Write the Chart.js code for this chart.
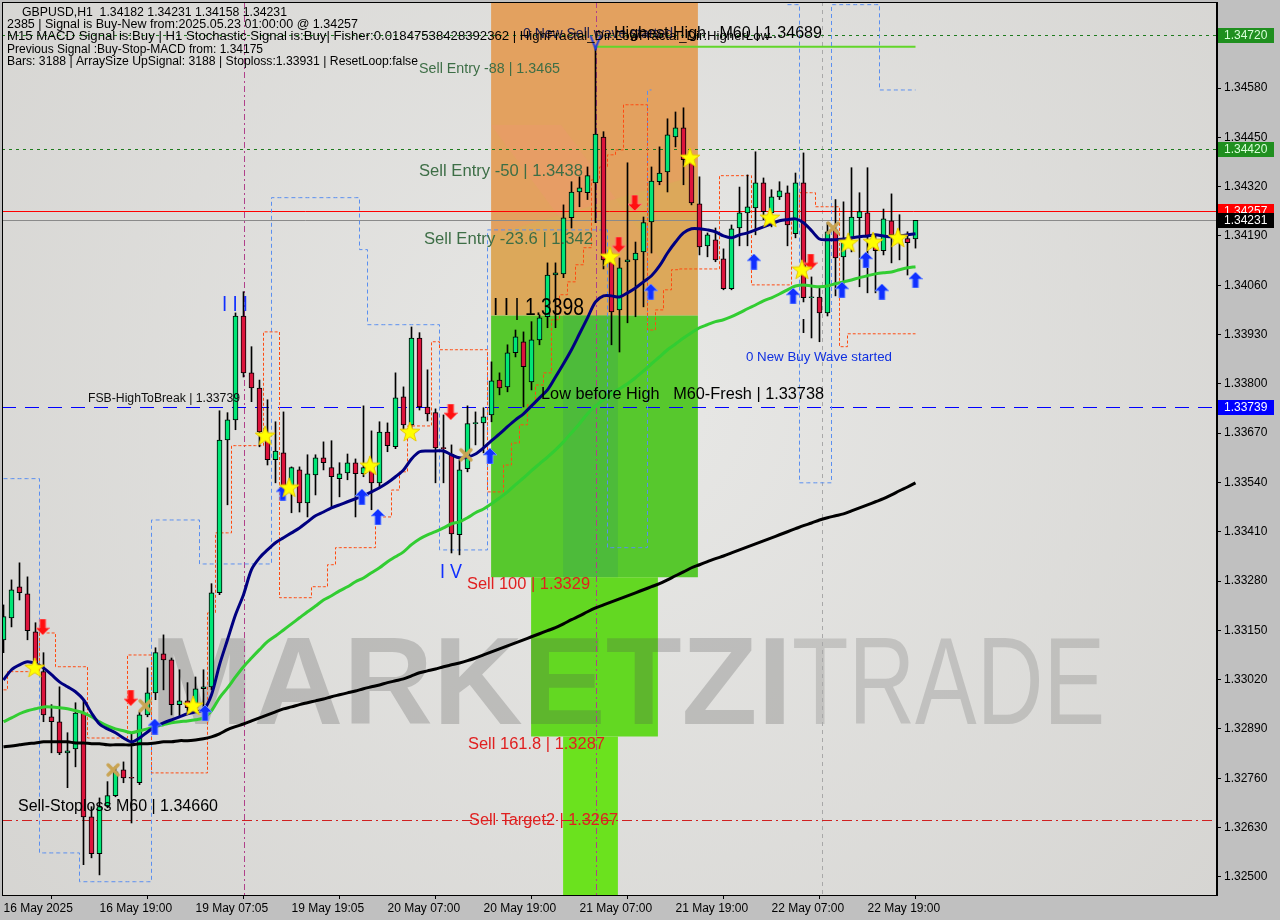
<!DOCTYPE html>
<html>
<head>
<meta charset="utf-8">
<script src="https://cdn.jsdelivr.net/npm/chart.js@4.4.1/dist/chart.umd.min.js"></script>
<style>
  html, body { margin: 0; padding: 0; background: #c0c0c0; }
  #wrap { width: 1280px; height: 920px; }
</style>
</head>
<body>
<div id="wrap"><canvas id="chart" width="1280" height="920"></canvas></div>
<script>
// GBPUSD H1 candles (bar 0 = 16 May 07:00)
const opens = [1.33125,1.33183,1.33265,1.33246,1.33146,1.33041,1.32922,1.32909,1.32827,1.32837,
  1.32932,1.32658,1.32561,1.32687,1.32714,1.32782,1.32761,1.32748,1.32927,1.32985,
  1.33088,1.33072,1.32954,1.32964,1.32946,1.32996,1.33001,1.33249,1.33652,1.33705,
  1.33979,1.33829,1.33789,1.33652,1.33600,1.33618,1.33528,1.33573,1.33486,1.33560,
  1.33605,1.33579,1.33550,1.33565,1.33592,1.33563,1.33581,1.33539,1.33673,1.33634,
  1.33766,1.33692,1.33921,1.33739,1.33724,1.33631,1.33615,1.33402,1.33576,1.33695,
  1.33697,1.33718,1.33810,1.33792,1.33882,1.33911,1.33805,1.33916,1.33977,1.34087,
  1.34090,1.34238,1.34306,1.34304,1.34330,1.34451,1.34122,1.33995,1.34122,1.34127,
  1.34148,1.34227,1.34333,1.34359,1.34451,1.34475,1.34385,1.34275,1.34164,1.34180,
  1.34130,1.34051,1.34211,1.34251,1.34264,1.34330,1.34251,1.34293,1.34304,1.34196,
  1.34330,1.34027,1.34029,1.33987,1.34206,1.34135,1.34185,1.34238,1.34251,1.34161,
  1.34151,1.34230,1.34193,1.34183,1.34182];
const highs = [1.33217,1.33283,1.33328,1.33291,1.33170,1.33091,1.32954,1.33001,1.32880,1.32959,
  1.32967,1.32685,1.32708,1.32751,1.32790,1.32803,1.32880,1.32935,1.33051,1.33104,
  1.33138,1.33077,1.33046,1.33012,1.33027,1.33046,1.33273,1.33729,1.33724,1.33987,
  1.34043,1.33898,1.33810,1.33758,1.33700,1.33726,1.33581,1.33581,1.33613,1.33613,
  1.33647,1.33650,1.33592,1.33615,1.33602,1.33742,1.33676,1.33700,1.33697,1.33829,
  1.33792,1.33950,1.33935,1.33837,1.33734,1.33718,1.33639,1.33600,1.33742,1.33726,
  1.33737,1.33858,1.33829,1.33903,1.33942,1.33937,1.33964,1.33982,1.34119,1.34119,
  1.34272,1.34333,1.34346,1.34372,1.34689,1.34465,1.34145,1.34132,1.34383,1.34174,
  1.34240,1.34372,1.34425,1.34499,1.34517,1.34528,1.34391,1.34346,1.34198,1.34211,
  1.34156,1.34219,1.34319,1.34351,1.34412,1.34343,1.34312,1.34333,1.34322,1.34356,
  1.34409,1.34082,1.34056,1.34225,1.34286,1.34280,1.34370,1.34304,1.34370,1.34190,
  1.34261,1.34301,1.34246,1.34201,1.34231];
const lows = [1.33091,1.33159,1.33230,1.33125,1.33051,1.32909,1.32827,1.32822,1.32735,1.32790,
  1.32532,1.32550,1.32505,1.32682,1.32711,1.32748,1.32642,1.32743,1.32922,1.32967,
  1.32993,1.32927,1.32922,1.32935,1.32935,1.32940,1.32993,1.33244,1.33481,1.33679,
  1.33818,1.33753,1.33634,1.33586,1.33539,1.33513,1.33460,1.33462,1.33449,1.33507,
  1.33573,1.33476,1.33502,1.33547,1.33449,1.33555,1.33468,1.33526,1.33621,1.33629,
  1.33679,1.33679,1.33731,1.33702,1.33539,1.33539,1.33354,1.33349,1.33568,1.33639,
  1.33618,1.33700,1.33771,1.33779,1.33871,1.33739,1.33784,1.33903,1.33948,1.33948,
  1.34080,1.34211,1.34267,1.34286,1.34225,1.34103,1.33903,1.33884,1.33961,1.33977,
  1.34003,1.34145,1.34325,1.34306,1.34425,1.34325,1.34272,1.34140,1.34135,1.34122,
  1.34048,1.34048,1.34164,1.34164,1.34193,1.34233,1.34214,1.34286,1.34164,1.34185,
  1.34016,1.33921,1.33911,1.33979,1.34032,1.34061,1.34148,1.34056,1.34040,1.34040,
  1.34140,1.34119,1.34127,1.34087,1.34158];
const closes = [1.33186,1.33257,1.33249,1.33149,1.33064,1.32927,1.32909,1.32827,1.32832,1.32932,
  1.32658,1.32561,1.32685,1.32714,1.32777,1.32761,1.32760,1.32927,1.32985,1.33091,
  1.33072,1.32954,1.32964,1.32946,1.32996,1.33001,1.33249,1.33652,1.33705,1.33979,
  1.33829,1.33789,1.33673,1.33600,1.33623,1.33528,1.33579,1.33486,1.33563,1.33605,
  1.33592,1.33555,1.33563,1.33592,1.33563,1.33579,1.33539,1.33673,1.33637,1.33763,
  1.33692,1.33921,1.33739,1.33721,1.33631,1.33629,1.33404,1.33573,1.33695,1.33697,
  1.33713,1.33808,1.33789,1.33882,1.33924,1.33845,1.33916,1.33974,1.34087,1.34093,
  1.34238,1.34306,1.34317,1.34349,1.34459,1.34127,1.33990,1.34106,1.34127,1.34145,
  1.34225,1.34335,1.34356,1.34457,1.34475,1.34391,1.34277,1.34161,1.34193,1.34127,
  1.34051,1.34209,1.34251,1.34267,1.34330,1.34254,1.34293,1.34309,1.34219,1.34330,
  1.34027,1.34029,1.33987,1.34201,1.34132,1.34172,1.34240,1.34254,1.34190,1.34151,
  1.34235,1.34193,1.34185,1.34172,1.34231];

// moving averages
const maFast = [1.33019,1.33046,1.33059,1.33067,1.33062,1.33051,1.33033,1.33014,1.33001,1.32988,
  1.32967,1.32932,1.32903,1.32890,1.32880,1.32866,1.32856,1.32866,1.32882,1.32896,
  1.32906,1.32914,1.32922,1.32930,1.32935,1.32940,1.32980,1.33059,1.33125,1.33191,
  1.33244,1.33310,1.33341,1.33362,1.33381,1.33394,1.33407,1.33420,1.33436,1.33452,
  1.33462,1.33473,1.33481,1.33489,1.33497,1.33505,1.33515,1.33526,1.33539,1.33555,
  1.33573,1.33602,1.33621,1.33623,1.33623,1.33623,1.33613,1.33605,1.33607,1.33615,
  1.33631,1.33650,1.33668,1.33687,1.33705,1.33721,1.33742,1.33763,1.33784,1.33818,
  1.33853,1.33890,1.33932,1.33974,1.34016,1.34032,1.34032,1.34029,1.34040,1.34053,
  1.34069,1.34085,1.34111,1.34145,1.34174,1.34198,1.34209,1.34209,1.34206,1.34201,
  1.34190,1.34185,1.34193,1.34198,1.34206,1.34214,1.34222,1.34230,1.34233,1.34235,
  1.34225,1.34204,1.34182,1.34180,1.34180,1.34182,1.34185,1.34188,1.34190,1.34193,
  1.34190,1.34188,1.34190,1.34193,1.34196];
const maMid = [1.32909,1.32919,1.32930,1.32938,1.32943,1.32948,1.32948,1.32946,1.32943,1.32938,
  1.32932,1.32922,1.32909,1.32898,1.32890,1.32885,1.32880,1.32885,1.32890,1.32896,
  1.32901,1.32906,1.32909,1.32911,1.32914,1.32919,1.32938,1.32972,1.32998,1.33027,
  1.33054,1.33077,1.33099,1.33120,1.33135,1.33151,1.33167,1.33183,1.33199,1.33214,
  1.33230,1.33241,1.33254,1.33265,1.33278,1.33288,1.33302,1.33315,1.33331,1.33344,
  1.33357,1.33376,1.33391,1.33402,1.33410,1.33420,1.33431,1.33436,1.33447,1.33460,
  1.33470,1.33484,1.33499,1.33515,1.33534,1.33552,1.33571,1.33589,1.33607,1.33626,
  1.33647,1.33671,1.33695,1.33721,1.33742,1.33758,1.33774,1.33787,1.33800,1.33816,
  1.33834,1.33853,1.33871,1.33890,1.33905,1.33921,1.33935,1.33948,1.33956,1.33964,
  1.33969,1.33977,1.33987,1.33998,1.34008,1.34019,1.34027,1.34037,1.34048,1.34058,
  1.34061,1.34058,1.34056,1.34058,1.34064,1.34069,1.34074,1.34080,1.34085,1.34090,
  1.34093,1.34095,1.34101,1.34106,1.34109];
const maSlow = [1.32843,1.32845,1.32848,1.32851,1.32853,1.32856,1.32856,1.32856,1.32856,1.32853,
  1.32853,1.32851,1.32851,1.32848,1.32848,1.32848,1.32848,1.32851,1.32851,1.32853,
  1.32856,1.32856,1.32859,1.32859,1.32861,1.32864,1.32869,1.32877,1.32888,1.32896,
  1.32903,1.32911,1.32919,1.32927,1.32935,1.32943,1.32948,1.32954,1.32959,1.32964,
  1.32969,1.32975,1.32980,1.32985,1.32990,1.32996,1.33001,1.33006,1.33012,1.33017,
  1.33022,1.33030,1.33038,1.33043,1.33048,1.33054,1.33059,1.33064,1.33070,1.33077,
  1.33085,1.33093,1.33101,1.33109,1.33117,1.33125,1.33133,1.33141,1.33149,1.33157,
  1.33167,1.33178,1.33188,1.33199,1.33209,1.33217,1.33225,1.33233,1.33241,1.33249,
  1.33257,1.33265,1.33273,1.33283,1.33294,1.33304,1.33315,1.33323,1.33331,1.33339,
  1.33346,1.33354,1.33362,1.33370,1.33378,1.33386,1.33394,1.33402,1.33410,1.33418,
  1.33426,1.33433,1.33441,1.33447,1.33452,1.33457,1.33465,1.33473,1.33481,1.33489,
  1.33497,1.33507,1.33518,1.33528,1.33539];

// trailing step lines (orange) and channel (blue), null = not drawn
const trailLine = [1.32993,1.33041,1.33041,1.33041,1.33041,1.33143,1.33143,1.33054,1.33054,1.33054,
  1.33054,1.32866,1.32866,1.32866,1.32866,1.32866,1.33085,1.33085,1.33085,1.32774,
  1.32774,1.32774,1.32774,1.32774,1.32774,1.32774,1.33196,1.33407,1.33407,1.33637,
  1.33637,1.33637,1.33637,1.33937,1.33937,1.33236,1.33236,1.33236,1.33236,1.33265,
  1.33265,1.33323,1.33368,1.33368,1.33368,1.33368,1.33368,1.33449,1.33449,1.33520,
  1.33568,1.33689,1.33689,1.33689,1.33911,1.33890,1.33890,1.33890,1.33890,1.33890,
  1.33890,1.33515,1.33515,1.33586,1.33644,1.33692,1.33745,1.33797,1.33829,1.33969,
  1.34035,1.34069,1.34114,1.34159,1.34338,1.34372,1.34404,1.34417,1.34536,1.34536,
  1.34536,1.33942,1.33995,1.34048,1.34101,1.34103,1.34103,1.34103,1.34103,1.34103,
  1.34349,1.34349,1.34349,1.34349,1.34061,1.34061,1.34061,1.34061,1.34061,1.34233,
  1.34304,1.34304,1.34267,1.34267,1.34267,1.33898,1.33932,1.33932,1.33932,1.33932,
  1.33932,1.33932,1.33932,1.33932,1.33932];
const channelLine = [1.33550,1.33550,1.33550,1.33550,1.33550,1.32563,1.32563,1.32563,1.32563,1.32563,
  1.32487,1.32487,1.32487,1.32487,1.32487,1.32487,1.32487,1.32487,1.32487,1.33441,
  1.33441,1.33441,1.33441,1.33441,1.33441,1.33325,1.33325,1.33325,1.33325,1.33325,
  1.33325,1.33325,1.33325,1.33325,1.34291,1.34291,1.34291,1.34291,1.34291,1.34291,
  1.34291,1.34291,1.34291,1.34291,1.34291,1.34154,1.33956,1.33956,1.33956,1.33956,
  1.33956,1.33956,1.33956,1.33956,1.33956,1.33362,1.33362,1.33362,1.33362,1.33362,
  1.33362,1.34206,1.34206,1.34206,1.34206,1.34206,1.34206,1.34206,1.34206,1.34206,
  1.34206,1.34206,1.34206,1.34206,1.34206,1.34206,1.33368,1.33368,1.33368,1.33368,
  1.33368,1.34575,null,null,null,null,null,null,null,null,
  null,null,null,null,null,null,null,null,1.34800,1.34800,
  1.33539,1.33539,1.33539,1.33539,1.34800,1.34800,1.34800,1.34800,1.34800,1.34800,
  1.34575,1.34575,1.34575,1.34575,1.34575];

// signal markers [bar, price]
const starMarks = [[3.9,1.33051],[23.7,1.32951],[32.7,1.33663],[35.7,1.33526],[45.8,1.33584],[50.8,1.33673],
  [75.8,1.34135],[85.8,1.34396],[95.8,1.34238],[99.8,1.34101],[105.6,1.34172],[108.7,1.34174],[111.8,1.34185]];
const buyArrows = [[18.9,1.32896],[25.2,1.32932],[34.9,1.33513],[44.8,1.33502],[46.8,1.33449],[60.8,1.33610],
  [80.9,1.34043],[93.8,1.34122],[98.7,1.34032],[104.8,1.34048],[107.8,1.34127],[109.8,1.34043],[114,1.34074]];
const sellArrows = [[4.9,1.33159],[15.9,1.32972],[55.9,1.33726],[76.9,1.34167],[78.9,1.34277],[100.9,1.34122]];
const crossMarks = [[13.7,1.32782],[17.7,1.32951],[57.8,1.33613],[103.7,1.34211]];
const waveMarks = [[74,1.34700]];

// axes
const timeTickBars = [0, 12, 24, 36, 48, 60, 72, 84, 96, 108];
const timeTicks = ['16 May 2025','16 May 19:00','19 May 07:05','19 May 19:05','20 May 07:00',
  '20 May 19:00','21 May 07:00','21 May 19:00','22 May 07:00','22 May 19:00'];
const priceTicks = [1.3250,1.3263,1.3276,1.3289,1.3302,1.3315,1.3328,1.3341,1.3354,1.3367,
  1.3380,1.3393,1.3406,1.3419,1.3432,1.3445,1.3458];

// levels
const greenLevels = [1.3472, 1.3442];
const signalPrice = 1.34257;
const lastPrice = 1.34231;
const breakLevel = 1.33739;
const stopLevel = 1.3265;
const highestHigh = 1.34689;
const fibLevels = [1.3398, 1.3329, 1.3287];
const zoneBars = [[60.95, 86.8], [65.95, 81.8], [69.95, 76.8]];
const dayLines = [30, 74];

// ---------------------------------------------------------------
const barIdx = opens.map((v, i) => i);
const pts = (arr) => arr.map((v, i) => ({x: i, y: v}));
const xy = (arr) => arr.map(p => ({x: p[0], y: p[1]}));

function makeIcon(w, h, draw) {
  const c = document.createElement('canvas');
  c.width = w; c.height = h;
  draw(c.getContext('2d'));
  return c;
}
const starIcon = makeIcon(22, 22, g => {
  g.beginPath();
  for (let i = 0; i < 10; i++) {
    const r = i % 2 ? 4.3 : 10.5;
    const a = -Math.PI / 2 + i * Math.PI / 5;
    g.lineTo(11 + r * Math.cos(a), 11.5 + r * Math.sin(a));
  }
  g.closePath();
  g.fillStyle = '#ffff00'; g.fill();
  g.strokeStyle = '#e8c800'; g.lineWidth = 1; g.stroke();
});
function arrowPath(g, up) {
  const p = up ? [[7,0],[14,7],[10,7],[10,16],[4,16],[4,7],[0,7]]
               : [[7,16],[14,9],[10,9],[10,0],[4,0],[4,9],[0,9]];
  g.beginPath();
  p.forEach((q, i) => i ? g.lineTo(q[0], q[1]) : g.moveTo(q[0], q[1]));
  g.closePath();
}
const upIcon = makeIcon(14, 16, g => {
  arrowPath(g, true); g.fillStyle = '#1030ff'; g.fill();
  g.strokeStyle = 'rgba(120,150,255,0.9)'; g.lineWidth = 1; g.stroke();
});
const downIcon = makeIcon(14, 16, g => {
  arrowPath(g, false); g.fillStyle = '#ff1010'; g.fill();
  g.strokeStyle = 'rgba(255,120,120,0.9)'; g.lineWidth = 1; g.stroke();
});
const crossIcon = makeIcon(16, 16, g => {
  g.strokeStyle = '#c9a453'; g.lineWidth = 3.5; g.lineCap = 'round';
  g.beginPath(); g.moveTo(3, 3); g.lineTo(13, 13); g.moveTo(13, 3); g.lineTo(3, 13); g.stroke();
});
const vIcon = makeIcon(14, 16, g => {
  g.strokeStyle = '#2040e0'; g.lineWidth = 2;
  g.beginPath(); g.moveTo(2, 1); g.lineTo(7, 14); g.lineTo(12, 1); g.stroke();
});

// text annotations anchored to bar / price
const notes = [
  {k: 51.94, p: 1.34631, t: 'Sell Entry -88 | 1.3465', c: '#3d6e46', s: 14, w: 141},
  {k: 51.94, p: 1.34359, t: 'Sell Entry -50 | 1.3438', c: '#3d6e46', s: 16, w: 164},
  {k: 52.56, p: 1.34180, t: 'Sell Entry -23.6 | 1.342', c: '#3d6e46', s: 16, w: 169},
  {k: 61.19, p: 1.33998, t: 'I I | 1.3398', c: '#000000', s: 24, w: 91},
  {k: 67.19, p: 1.33771, t: 'Low before High   M60-Fresh | 1.33738', c: '#000000', s: 16, w: 283},
  {k: 10.56, p: 1.33761, t: 'FSB-HighToBreak | 1.33739', c: '#101010', s: 12, w: 152},
  {k: 57.94, p: 1.33270, t: 'Sell 100 | 1.3329', c: '#e02020', s: 16, w: 123},
  {k: 58.06, p: 1.32848, t: 'Sell 161.8 | 1.3287', c: '#e02020', s: 16, w: 137},
  {k: 58.19, p: 1.32648, t: 'Sell Target2 | 1.3267', c: '#e02020', s: 16, w: 149},
  {k: 1.81,  p: 1.32685, t: 'Sell-Stoploss M60 | 1.34660', c: '#000000', s: 16, w: 200},
  {k: 92.81, p: 1.33869, t: '0 New Buy Wave started', c: '#1030e0', s: 13, w: 146},
  {k: 27.31, p: 1.34008, t: 'I I I', c: '#1030ff', s: 22, w: 26},
  {k: 54.56, p: 1.33302, t: 'I V', c: '#1030ff', s: 20, w: 22},
  {k: 99.7,  p: 1.33948, t: 'I', c: '#000000', s: 20, w: 5},
  {k: 64.94, p: 1.34723, t: '0 New Sell wave started', c: '#202050', s: 15, w: 150},
  {k: 76.31, p: 1.34723, t: 'Highest High   M60 | 1.34689', c: '#000000', s: 16, w: 208}
];
const header = [
  {x: 22, y: 13, t: 'GBPUSD,H1  1.34182 1.34231 1.34158 1.34231', w: 265},
  {x: 7, y: 25, t: '2385 | Signal is Buy-New from:2025.05.23 01:00:00 @ 1.34257', w: 351},
  {x: 7, y: 37, t: 'M15 MACD Signal is:Buy | H1 Stochastic Signal is:Buy| Fisher:0.01847538428392362 | HighFractal_Dir:LowFractal_Dir:HigherLow', w: 763},
  {x: 7, y: 50, t: 'Previous Signal :Buy-Stop-MACD from: 1.34175', w: 256},
  {x: 7, y: 62, t: 'Bars: 3188 | ArraySize UpSignal: 3188 | Stoploss:1.33931 | ResetLoop:false', w: 411}
];
const priceBoxes = [
  {p: 1.3472, bg: '#1f8f1f', fg: '#d8ffd8'},
  {p: 1.3442, bg: '#1f8f1f', fg: '#d8ffd8'},
  {p: signalPrice, bg: '#ff0000', fg: '#ffffff'},
  {p: lastPrice, bg: '#000000', fg: '#ffffff'},
  {p: breakLevel, bg: '#0000ff', fg: '#ffffff'}
];

function fitText(ctx, text, x, y, size, color, width, weight) {
  ctx.save();
  ctx.font = (weight || '') + ' ' + size + 'px "Liberation Sans", Arial, sans-serif';
  ctx.fillStyle = color;
  ctx.textBaseline = 'middle';
  ctx.textAlign = 'left';
  const m = ctx.measureText(text).width;
  ctx.translate(x, y);
  if (width) ctx.scale(width / m, 1);
  ctx.fillText(text, 0, 0);
  ctx.restore();
}

function hLine(ctx, a, y, color, dash, x0, x1) {
  ctx.save();
  ctx.strokeStyle = color; ctx.lineWidth = 1; ctx.setLineDash(dash || []);
  const yy = Math.round(y) + 0.5;
  ctx.beginPath(); ctx.moveTo(x0 !== undefined ? x0 : a.left, yy); ctx.lineTo(x1 !== undefined ? x1 : a.right, yy); ctx.stroke();
  ctx.restore();
}
function vLine(ctx, a, x, color, dash) {
  ctx.save();
  ctx.strokeStyle = color; ctx.lineWidth = 1; ctx.setLineDash(dash || []);
  const xx = Math.round(x) + 0.5;
  ctx.beginPath(); ctx.moveTo(xx, a.top); ctx.lineTo(xx, a.bottom); ctx.stroke();
  ctx.restore();
}
// scales should not reserve extra room for their end labels
function noScalePadding(s) {
  s.paddingTop = 0; s.paddingBottom = 0; s.paddingLeft = 0; s.paddingRight = 0;
}

const mt4Plugin = {
  id: 'mt4',
  beforeDraw(chart) {
    const {ctx, chartArea: a} = chart;
    ctx.save();
    ctx.fillStyle = '#c0c0c0';
    ctx.fillRect(0, 0, chart.width, chart.height);
    const g = ctx.createRadialGradient(620, 400, 40, 620, 400, 900);
    g.addColorStop(0, '#e7e7e5');
    g.addColorStop(1, '#d3d2cf');
    ctx.fillStyle = g;
    ctx.fillRect(a.left, a.top, a.right - a.left, a.bottom - a.top);
    ctx.restore();
  },
  beforeDatasetsDraw(chart) {
    const {ctx, chartArea: a, scales: {x, y}} = chart;
    ctx.save();
    ctx.beginPath(); ctx.rect(a.left, a.top, a.right - a.left, a.bottom - a.top); ctx.clip();

    // sell zone (orange) and target zones (green)
    const xl0 = x.getPixelForValue(zoneBars[0][0]), xr0 = x.getPixelForValue(zoneBars[0][1]);
    const xl1 = x.getPixelForValue(zoneBars[1][0]), xr1 = x.getPixelForValue(zoneBars[1][1]);
    const xl2 = x.getPixelForValue(zoneBars[2][0]), xr2 = x.getPixelForValue(zoneBars[2][1]);
    const y0 = y.getPixelForValue(fibLevels[0]);
    const y1 = y.getPixelForValue(fibLevels[1]);
    const y2 = y.getPixelForValue(fibLevels[2]);
    ctx.fillStyle = '#e3a15f';
    ctx.fillRect(xl0, a.top, xr0 - xl0, y0 - a.top);
    ctx.fillStyle = 'rgba(238,150,115,0.35)';
    ctx.beginPath(); ctx.moveTo(xl0, 125); ctx.lineTo(xl0 + 70, 125); ctx.lineTo(xl0 + 170, 260); ctx.lineTo(xl0 + 100, 260); ctx.closePath(); ctx.fill();
    ctx.fillStyle = 'rgba(205,185,80,0.3)';
    ctx.beginPath(); ctx.moveTo(xl0, 235); ctx.lineTo(xr0, 175); ctx.lineTo(xr0, y0); ctx.lineTo(xl0, y0); ctx.closePath(); ctx.fill();
    ctx.fillStyle = '#57c82d';
    ctx.fillRect(xl0, y0, xr0 - xl0, y1 - y0);
    ctx.fillStyle = '#4dbb3a';
    ctx.fillRect(xl2, y0, xr2 - xl2, y1 - y0);
    ctx.fillStyle = '#63d822';
    ctx.fillRect(xl1, y1, xr1 - xl1, y2 - y1);
    ctx.fillStyle = '#6be21e';
    ctx.fillRect(xl2, y2, xr2 - xl2, a.bottom - y2);

    // watermark
    ctx.save();
    ctx.font = 'bold 124px "Liberation Sans", Arial, sans-serif';
    let w = ctx.measureText('MARKETZI').width;
    ctx.translate(150, 724); ctx.scale(642 / w, 1);
    ctx.fillStyle = 'rgba(80,80,80,0.25)';
    ctx.fillText('MARKETZI', 0, 0);
    ctx.restore();
    ctx.save();
    ctx.font = '124px "Liberation Sans", Arial, sans-serif';
    w = ctx.measureText('TRADE').width;
    ctx.translate(792, 724); ctx.scale(313 / w, 1);
    ctx.fillStyle = 'rgba(80,80,80,0.2)';
    ctx.fillText('TRADE', 0, 0);
    ctx.restore();

    // vertical separators
    dayLines.forEach(k => vLine(ctx, a, x.getPixelForValue(k), '#b0408a', [6, 3, 2, 3]));
    vLine(ctx, a, x.getPixelForValue(102.3), '#a8a8a8', [4, 4]);

    // horizontal levels
    greenLevels.forEach(p => hLine(ctx, a, y.getPixelForValue(p), '#1e7b1e', [3, 4]));
    hLine(ctx, a, y.getPixelForValue(signalPrice), '#ff0000');
    hLine(ctx, a, y.getPixelForValue(lastPrice), '#8a8a8a');
    hLine(ctx, a, y.getPixelForValue(breakLevel), '#0000ff', [14, 9]);
    hLine(ctx, a, y.getPixelForValue(stopLevel), '#d02020', [10, 4, 2, 4]);
    ctx.save(); ctx.lineWidth = 2;
    ctx.strokeStyle = '#62d62a';
    const hy = y.getPixelForValue(highestHigh);
    ctx.beginPath(); ctx.moveTo(x.getPixelForValue(74), hy); ctx.lineTo(x.getPixelForValue(114), hy); ctx.stroke();
    ctx.restore();
    ctx.restore();
  },
  afterDatasetsDraw(chart) {
    const {ctx, chartArea: a, scales: {x, y}} = chart;
    notes.forEach(n => fitText(ctx, n.t, x.getPixelForValue(n.k), y.getPixelForValue(n.p), n.s, n.c, n.w));
    header.forEach(h => fitText(ctx, h.t, h.x, h.y, 12, '#000000', h.w));
    // frame
    ctx.save();
    ctx.strokeStyle = '#000'; ctx.lineWidth = 1;
    ctx.strokeRect(a.left + 0.5, a.top + 0.5, a.right - a.left - 1, a.bottom - a.top);
    ctx.restore();
    // price boxes on the axis
    priceBoxes.forEach(b => {
      const py = Math.round(y.getPixelForValue(b.p));
      ctx.fillStyle = b.bg;
      ctx.fillRect(a.right + 1, py - 7, 56, 15);
      fitText(ctx, b.p.toFixed(5), a.right + 7, py + 0.5, 12, b.fg);
    });
  }
};

const ctx = document.getElementById('chart').getContext('2d');
new Chart(ctx, {
  type: 'bar',
  data: {
    datasets: [
      {
        type: 'scatter', label: 'wave', data: xy(waveMarks), order: -5,
        pointStyle: vIcon, pointRadius: 8
      },
      {
        type: 'scatter', label: 'stars', data: xy(starMarks), order: -4,
        pointStyle: starIcon, pointRadius: 8
      },
      {
        type: 'scatter', label: 'buy', data: xy(buyArrows), order: -4,
        pointStyle: upIcon, pointRadius: 8
      },
      {
        type: 'scatter', label: 'sell', data: xy(sellArrows), order: -4,
        pointStyle: downIcon, pointRadius: 8
      },
      {
        type: 'scatter', label: 'cross', data: xy(crossMarks), order: -4,
        pointStyle: crossIcon, pointRadius: 8
      },
      {
        type: 'line', label: 'MA fast', data: pts(maFast), order: -3,
        borderColor: '#000080', borderWidth: 3, pointRadius: 0, tension: 0.3
      },
      {
        type: 'line', label: 'MA mid', data: pts(maMid), order: -2,
        borderColor: '#32cd32', borderWidth: 3, pointRadius: 0, tension: 0.3
      },
      {
        type: 'line', label: 'MA slow', data: pts(maSlow), order: -1,
        borderColor: '#000000', borderWidth: 3, pointRadius: 0, tension: 0.3
      },
      {
        type: 'bar', label: 'body',
        data: barIdx.map(i => ({x: i, y: [opens[i], closes[i]]})),
        backgroundColor: barIdx.map(i => closes[i] >= opens[i] ? '#00e676' : '#dc143c'),
        borderColor: '#000000', borderWidth: 1, borderSkipped: false,
        barThickness: 5, minBarLength: 1, grouped: false, order: 0
      },
      {
        type: 'bar', label: 'wick',
        data: barIdx.map(i => ({x: i, y: [lows[i], highs[i]]})),
        backgroundColor: '#000000', borderWidth: 0,
        barThickness: 1, grouped: false, order: 1
      },
      {
        type: 'line', label: 'trail', data: pts(trailLine), order: 2,
        borderColor: '#ff4a10', borderWidth: 1, borderDash: [3, 2], pointRadius: 0, stepped: 'middle'
      },
      {
        type: 'line', label: 'channel', data: pts(channelLine), order: 3, spanGaps: false,
        borderColor: '#5a8ff0', borderWidth: 1, borderDash: [4, 3], pointRadius: 0, stepped: 'middle'
      }
    ]
  },
  options: {
    responsive: false,
    animation: false,
    devicePixelRatio: 1,
    layout: { autoPadding: false, padding: { left: 2, top: 2, right: 0, bottom: 0 } },
    plugins: { legend: { display: false }, tooltip: { enabled: false } },
    scales: {
      x: {
        type: 'linear', min: -0.1875, max: 151.6875, offset: false,
        grid: { display: true, drawOnChartArea: false, drawTicks: true, tickLength: 4, color: '#000' },
        border: { display: true, color: '#000' },
        afterBuildTicks: s => { s.ticks = timeTickBars.map(v => ({value: v})); },
        afterFit: s => { s.height = 25; noScalePadding(s); },
        ticks: {
          autoSkip: false, maxRotation: 0, align: 'start', padding: 2,
          color: '#000', font: { family: '"Liberation Sans", Arial, sans-serif', size: 12 },
          callback: (v, i) => timeTicks[i]
        }
      },
      y: {
        type: 'linear', position: 'right', min: 1.32452, max: 1.34807,
        grid: { display: true, drawOnChartArea: false, drawTicks: true, tickLength: 4, color: '#000' },
        border: { display: true, color: '#000' },
        afterBuildTicks: s => { s.ticks = priceTicks.map(v => ({value: v})); },
        afterFit: s => { s.width = 63; noScalePadding(s); },
        ticks: {
          padding: 3, color: '#000',
          font: { family: '"Liberation Sans", Arial, sans-serif', size: 12 },
          callback: v => v.toFixed(5)
        }
      }
    }
  },
  plugins: [mt4Plugin]
});
</script>
</body>
</html>
